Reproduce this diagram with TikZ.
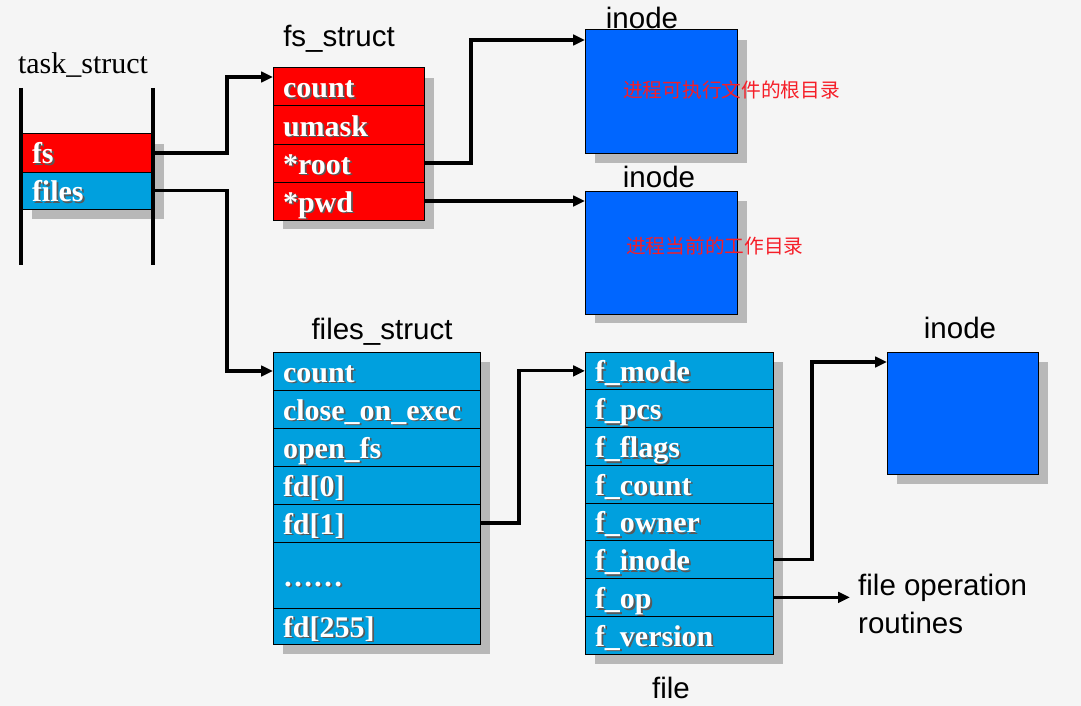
\documentclass[tikz,border=0pt]{standalone}
\usepackage{fontspec}
\setmainfont{Liberation Serif}
\newfontfamily\lsans{Liberation Sans}
\newfontfamily\cjk{Noto Sans CJK SC}
\usetikzlibrary{arrows.meta,calc}
\definecolor{fsred}{RGB}{255,0,0}
\definecolor{fblue}{RGB}{0,160,222}
\definecolor{iblue}{RGB}{0,102,255}
\definecolor{shadowgray}{RGB}{184,184,184}
\definecolor{bggray}{RGB}{245,245,245}
\definecolor{cnred}{RGB}{245,30,40}
\newcommand{\fieldfont}{\fontsize{30}{33}\selectfont\bfseries}
\newcommand{\shtext}[1]{\rlap{\hspace{1.8pt}\raisebox{-1.8pt}{\color{black!65}#1}}#1}
\begin{document}
\begin{tikzpicture}[x=1pt,y=-1pt,
  field/.style={draw=black, line width=1pt, outer sep=0pt, anchor=north west,
    inner xsep=10pt, inner ysep=0pt, align=left, text=white, font=\fieldfont,
    text height=25pt, text depth=3pt, minimum height=38pt},
  redfield/.style={field, fill=fsred},
  bluefield/.style={field, fill=fblue},
  inodebox/.style={draw=black, line width=1pt, outer sep=0pt, anchor=north west,
    fill=iblue, minimum width=152pt, minimum height=123pt, inner sep=0pt},
  lbl/.style={font=\lsans\fontsize{29.5}{33}\selectfont, text=black, inner sep=0pt},
  cnlbl/.style={font=\cjk\fontsize{19.7}{22}\selectfont, text=cnred, inner sep=0pt, anchor=west},
  conn/.style={draw=black, line width=3.2pt, -{Triangle[length=12pt,width=10.5pt]}},
  shadow/.style={fill=shadowgray},
  wall/.style={draw=black, line width=3.2pt}
]
\useasboundingbox (0,0) rectangle (1081,706);
\fill[bggray] (0,0) rectangle (1081,706);

% shadows
\fill[shadow] (32,144) rectangle (164,219);
\fill[shadow] (283,78) rectangle (434,229);
\fill[shadow] (595,40) rectangle (747,163);
\fill[shadow] (595,201) rectangle (747,323);
\fill[shadow] (283,362) rectangle (490,654);
\fill[shadow] (595,362) rectangle (783,664);
\fill[shadow] (897,362) rectangle (1048,484);

% task_struct
\node[lbl] (tlabel) at (83,65) {\rmfamily\fontsize{30}{33}\selectfont task\_struct};
\node[redfield, text width=111pt] (tfs) at (22,134) {\shtext{fs}};
\node[bluefield, text width=111pt, minimum height=37pt] (tfiles) at (22,172) {\shtext{files}};
\draw[wall] (21,88) -- (21,265);
\draw[wall] (153,88) -- (153,265);

% fs_struct
\node[lbl] (fslabel) at (339,39) {fs\_struct};
\node[redfield, text width=131pt] (fsc) at (273,68) {\shtext{count}};
\node[redfield, text width=131pt] (fsu) at (273,106) {\shtext{umask}};
\node[redfield, text width=131pt] (root) at (273,144) {\shtext{*root}};
\node[redfield, text width=131pt] (pwd) at (273,182) {\shtext{*pwd}};

% inodes
\node[inodebox] (ino1) at (585,30) {};
\node[lbl] (ino1l) at (642,18) {inode};
\node[cnlbl] (cn1) at (623,90) {进程可执行文件的根目录};
\node[inodebox] (ino2) at (585,191) {};
\node[lbl] (ino2l) at (659,177) {inode};
\node[cnlbl] (cn2) at (626,246) {进程当前的工作目录};
\node[inodebox, minimum width=151pt, minimum height=122pt] (ino3) at (887,352) {};
\node[lbl] (ino3l) at (960,328) {inode};

% files_struct
\node[lbl] (filesl) at (382,332) {files\_struct};
\node[bluefield, text width=187pt] (fsc2) at (273,352) {\shtext{count}};
\node[bluefield, text width=187pt] (coe) at (273,390) {\shtext{close\_on\_exec}};
\node[bluefield, text width=187pt] (ofs) at (273,428) {\shtext{open\_fs}};
\node[bluefield, text width=187pt] (fd0) at (273,466) {\shtext{fd[0]}};
\node[bluefield, text width=187pt] (fd1) at (273,504) {\shtext{fd[1]}};
\node[bluefield, text width=187pt, minimum height=66pt] (dots) at (273,542) {\shtext{……}};
\node[bluefield, text width=187pt, minimum height=36pt] (fd255) at (273,608) {\shtext{fd[255]}};

% file
\node[lbl] (filel) at (671,688) {file};
\node[bluefield, text width=168pt, minimum height=37.75pt] (fmode) at (585,352) {\shtext{f\_mode}};
\node[bluefield, text width=168pt, minimum height=37.75pt] (fpcs) at (585,389.75) {\shtext{f\_pcs}};
\node[bluefield, text width=168pt, minimum height=37.75pt] (fflags) at (585,427.5) {\shtext{f\_flags}};
\node[bluefield, text width=168pt, minimum height=37.75pt] (fcount) at (585,465.25) {\shtext{f\_count}};
\node[bluefield, text width=168pt, minimum height=37.75pt] (fowner) at (585,503) {\shtext{f\_owner}};
\node[bluefield, text width=168pt, minimum height=37.75pt] (finode) at (585,540.75) {\shtext{f\_inode}};
\node[bluefield, text width=168pt, minimum height=37.75pt] (fop) at (585,578.5) {\shtext{f\_op}};
\node[bluefield, text width=168pt, minimum height=37.75pt] (fver) at (585,616.25) {\shtext{f\_version}};

% file operation routines
\node[lbl, anchor=west] (fopr1) at (858,588) {file operation};
\node[lbl, anchor=west] (fopr2) at (858,623) {routines};
\coordinate (opend) at (850,597);

% connectors
\draw[conn] (tfs.east) -- ++(74,0) |- ($(fsc.north west)+(0,9)$);
\draw[conn] (tfiles.east) -- ++(74,0) |- (fsc2.west);
\draw[conn] (root.east) -- ++(47,0) |- ($(ino1.north west)+(0,10)$);
\draw[conn] (pwd.east) -- (pwd.east -| ino2.west);
\draw[conn] (fd1.east) -- ++(39,0) |- (fmode.west);
\draw[conn] (finode.east) -- ++(39,0) |- ($(ino3.north west)+(0,10)$);
\draw[conn] (fop.east) -- (fop.east -| opend);
\end{tikzpicture}
\end{document}
